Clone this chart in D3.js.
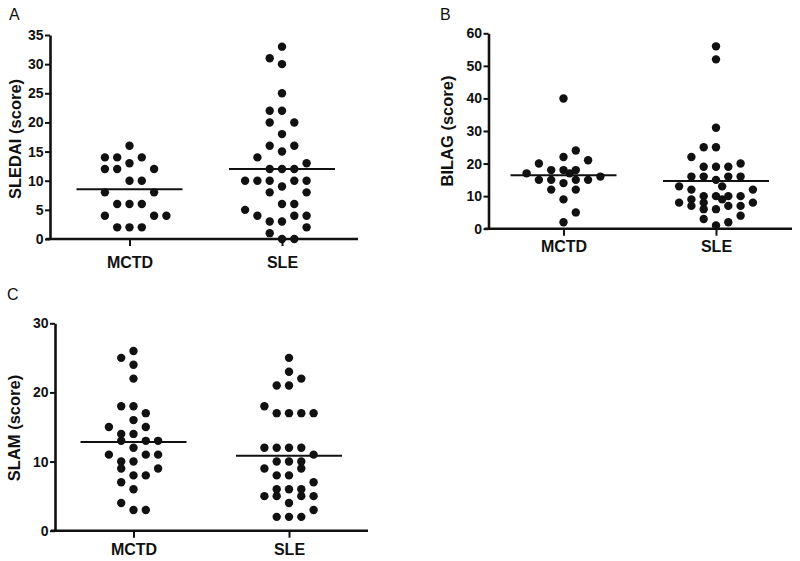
<!DOCTYPE html>
<html><head><meta charset="utf-8">
<script src="https://cdn.jsdelivr.net/npm/d3@7/dist/d3.min.js"></script>
<style>
body{margin:0;background:#fff}
svg{display:block}
text{font-family:"Liberation Sans",Arial,Helvetica,sans-serif;fill:#111}
</style>
</head><body>
<svg id="chart" width="800" height="561"></svg>
<script>
// ---------- data ----------
const categories = ["MCTD", "SLE"];
const panelLetters = ["A", "B", "C"];
const yTitles = ["SLEDAI (score)", "BILAG (score)", "SLAM (score)"];
const sledaiTicks = [0, 5, 10, 15, 20, 25, 30, 35];
const bilagTicks = [0, 10, 20, 30, 40, 50, 60];
const slamTicks = [0, 10, 20, 30];

// values and their column slot in the dot plot
const sledaiMCTD    = [16,14,14,14,13,12,12,12,10,10,8,8,6,6,6,4,4,4,2,2,2];
const sledaiMCTDCol = [0,-2,-1,1,0,-2,-1,2,0,1,-2,2,-1,0,1,-2,2,3,-1,0,1];
const sledaiSLE     = [33,31,30,25,22,22,20,20,18,16,16,15,14,13,12,12,12,10,10,10,10,10,9,8,8,6,6,5,4,4,4,3,3,2,1,0,0];
const sledaiSLECol  = [0,-1,0,0,-1,0,-1,1,0,-1,1,0,-2,2,-1,0,1,-3,-2,-1,1,2,0,-1,2,0,1,-3,-2,1,2,-1,0,2,-1,0,1];

const bilagMCTD     = [40,24,22,21,20,18,18,18,17,17,16,15,15,15,15,14,12,12,9,5,2];
const bilagMCTDCol  = [0,1,0,2,-2,-1,0,1,-3,0.5,3,-2,-1,1,2,0,-1,1,0,1,0];
const bilagSLE      = [56,52,31,25,25,22,20,19,19,19,16,16,16,16,15,13,13,12,12,10,10,10,10,9,9,8,8,8,7,7,7,6,6,4,3,2,1];
const bilagSLECol   = [0,0,0,-1,0,-2,2,-1,0,1,-2,-1,1,2,0,-3,0.5,-2,3,-1,0,1,2,-2,0.5,-3,-1,3,-2,1,2,-1,0,2,-1,1,0];

const slamMCTD      = [26,25,24,22,18,18,17,16,15,15,14,14,13,13,13,12,11,11,11,10,10,9,9,8,8,7,6,4,3,3];
const slamMCTDCol   = [0,-1,0,0,-1,0,1,0,-2,1,-1,0,-1,1,2,0,-2,1,2,-1,0,-1,2,0,1,-1,0,-1,0,1];
const slamSLE       = [25,23,22,21,21,18,17,17,17,17,12,12,12,12,11,10,10,10,9,9,8,8,7,6,6,6,5,5,5,5,4,3,2,2,2];
const slamSLECol    = [0,0,1,-1,0,-2,-1,0,1,2,-2,-1,0,1,2,-1,0,1,-2,1,-1,0,2,-1,0,1,-2,-1,1,2,0,2,-1,0,1];

// ---------- layout ----------
const panels = [
  {letter: panelLetters[0], title: yTitles[0], ticks: sledaiTicks, yMax: 35,
   series: [[sledaiMCTD, sledaiMCTDCol], [sledaiSLE, sledaiSLECol]],
   left: 50, right: 358, top: 35, bottom: 239, cat: [129.5, 282],
   letterX: 9, letterY: 20, titleX: 20.5, titleY: 139, catPad: 11},
  {letter: panelLetters[1], title: yTitles[1], ticks: bilagTicks, yMax: 60,
   series: [[bilagMCTD, bilagMCTDCol], [bilagSLE, bilagSLECol]],
   left: 488.5, right: 792, top: 33.3, bottom: 228.7, cat: [563.5, 716],
   letterX: 440, letterY: 20, titleX: 452.5, titleY: 131, catPad: 4.5},
  {letter: panelLetters[2], title: yTitles[2], ticks: slamTicks, yMax: 30,
   series: [[slamMCTD, slamMCTDCol], [slamSLE, slamSLECol]],
   left: 55, right: 368, top: 323.3, bottom: 530.7, cat: [133.5, 289],
   letterX: 7, letterY: 300, titleX: 20, titleY: 428, catPad: 5.5}
];
const slotStep = 12.3, dotR = 4.2, meanHalf = 53, ink = "#111";

const svg = d3.select("#chart");

panels.forEach(p => {
  const g = svg.append("g");
  const y = d3.scaleLinear().domain([0, p.yMax]).range([p.bottom, p.top]);
  const x = d3.scalePoint().domain(categories).range(p.cat);

  // y axis
  const ya = g.append("g").attr("transform", `translate(${p.left},0)`)
    .call(d3.axisLeft(y).tickValues(p.ticks).tickSize(5).tickPadding(1.5).tickSizeOuter(0));
  ya.select(".domain").attr("stroke", ink).attr("stroke-width", 2.6);
  ya.selectAll(".tick line").attr("stroke", ink).attr("stroke-width", 2);
  ya.selectAll(".tick text").attr("font-size", 14).attr("font-weight", "bold")
    .attr("font-family", "Liberation Sans, Arial, sans-serif").attr("fill", ink);

  // x axis
  const xa = g.append("g").attr("transform", `translate(0,${p.bottom})`)
    .call(d3.axisBottom(x).tickSize(7).tickPadding(p.catPad).tickSizeOuter(0));
  xa.select(".domain").remove();
  xa.selectAll(".tick line").attr("stroke", ink).attr("stroke-width", 2);
  xa.selectAll(".tick text").attr("font-size", 16).attr("font-weight", "bold")
    .attr("font-family", "Liberation Sans, Arial, sans-serif").attr("fill", ink);
  g.append("line").attr("x1", p.left - 4).attr("x2", p.right)
    .attr("y1", p.bottom).attr("y2", p.bottom)
    .attr("stroke", ink).attr("stroke-width", 2.6);

  // dots & mean lines
  p.series.forEach(([vals, cols], i) => {
    const cx = x(categories[i]);
    g.append("g").selectAll("circle").data(vals).join("circle")
      .attr("cx", (d, j) => cx + cols[j] * slotStep)
      .attr("cy", d => y(d))
      .attr("r", dotR).attr("fill", ink);
    const m = d3.mean(vals);
    g.append("line").attr("x1", cx - meanHalf).attr("x2", cx + meanHalf)
      .attr("y1", y(m)).attr("y2", y(m)).attr("stroke", ink).attr("stroke-width", 2);
  });

  // titles
  g.append("text").attr("transform", `translate(${p.titleX},${p.titleY}) rotate(-90)`)
    .attr("text-anchor", "middle").attr("font-size", 16.5).attr("font-weight", "bold")
    .text(p.title);
  g.append("text").attr("x", p.letterX).attr("y", p.letterY)
    .attr("font-size", 16).text(p.letter);
});
</script>
</body></html>
